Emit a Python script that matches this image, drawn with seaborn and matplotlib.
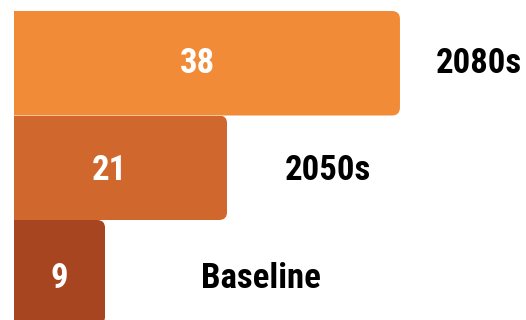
import matplotlib
matplotlib.use("Agg")
import matplotlib.pyplot as plt
import seaborn as sns
import pandas as pd
from matplotlib.patches import FancyBboxPatch

# Data
categories = ["2080s", "2050s", "Baseline"]
values = [38, 21, 9]
colors = ["#F28B38", "#D0672D", "#A6451F"]

# Style (pixel nudges for labels)
label_pad_px = [36, 58, 96]
value_nudge_px = [-9, -11, 0]
text_dy_px = [0, 3, 6]

df = pd.DataFrame({"period": categories, "value": values})

sns.set_theme(style="white")
plt.rcParams["font.family"] = ["Roboto Condensed", "Liberation Sans Narrow",
                               "Roboto", "DejaVu Sans"]

DPI = 100
fig = plt.figure(figsize=(5.26, 3.2), dpi=DPI)
ax = fig.add_axes([0, 0, 1, 1])

sns.barplot(data=df, x="value", y="period", hue="period", palette=colors,
            orient="h", width=1.0, legend=False, ax=ax, saturation=1.0,
            linewidth=0)

# axis limits -> pixel mapping
px_per_x = 10.17
px_per_y = 104.5
x0_px = 13.5
top_px = 11
xmin = -x0_px / px_per_x
xmax = xmin + 526 / px_per_x
ytop = -0.5 - top_px / px_per_y
ybot = ytop + 320 / px_per_y
ax.set_xlim(xmin, xmax)
ax.set_ylim(ybot, ytop)
ax.axis("off")

# round right corners via clip path
r_px = 8
aspect = px_per_x / px_per_y
for bar in ax.patches:
    x, y, w, h = bar.get_x(), bar.get_y(), bar.get_width(), bar.get_height()
    ext = 2.0
    clip = FancyBboxPatch((x - ext, y), w + ext, h,
                          boxstyle=f"round,pad=0,rounding_size={r_px / px_per_x}",
                          mutation_aspect=aspect, transform=ax.transData,
                          facecolor="none", edgecolor="none")
    ax.add_patch(clip)
    clip.set_visible(False)
    bar.set_clip_path(clip)

for i, (cat, v) in enumerate(zip(categories, values)):
    yy = i + text_dy_px[i] / px_per_y
    ax.text(v / 2 + value_nudge_px[i] / px_per_x, yy, str(v), ha="center",
            va="center", color="white", fontsize=25, fontweight="bold")
    ax.text(v + label_pad_px[i] / px_per_x, yy, cat, ha="left", va="center",
            color="black", fontsize=25, fontweight="bold")

fig.savefig("out.png", dpi=DPI)
